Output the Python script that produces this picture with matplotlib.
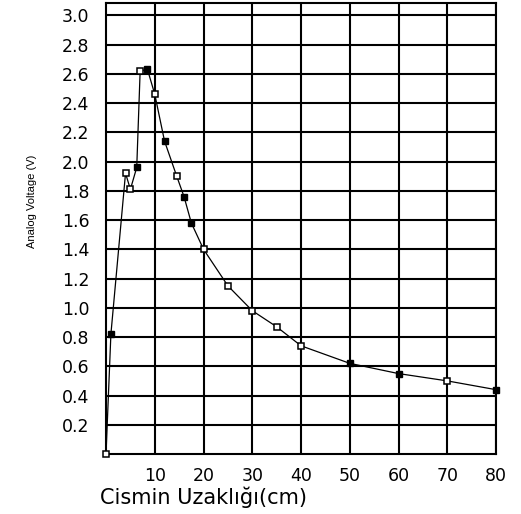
import numpy as np
import matplotlib
matplotlib.use('Agg')
import matplotlib.pyplot as plt

# mesafe (cm) ve analog gerilim (V)
mesafe = [0, 1, 4, 5, 6.3, 7, 8.5, 10, 12, 14.5, 16, 17.5, 20, 25, 30, 35, 40, 50, 60, 70, 80]
gerilim = [0.0, 0.82, 1.92, 1.81, 1.96, 2.62, 2.63, 2.46, 2.14, 1.90, 1.76, 1.58, 1.40,
           1.15, 0.98, 0.87, 0.74, 0.62, 0.55, 0.50, 0.44]
dolu = [0, 1, 0, 0, 1, 0, 1, 0, 1, 0, 1, 1, 0, 0, 0, 0, 0, 1, 1, 0, 1]

xticks = [10, 20, 30, 40, 50, 60, 70, 80]
yticks = [0.2, 0.4, 0.6, 0.8, 1.0, 1.2, 1.4, 1.6, 1.8, 2.0, 2.2, 2.4, 2.6, 2.8, 3.0]

fig = plt.figure(figsize=(5.21, 5.14), dpi=100)
ax = fig.add_axes([0.2035, 0.1167, 0.7486, 0.8774])

ax.plot(mesafe, gerilim, color='black', lw=0.9, zorder=3)
x = np.array(mesafe)
y = np.array(gerilim)
d = np.array(dolu) == 1
ax.plot(x[~d], y[~d], 's', ms=4.5, mfc='white', mec='black', mew=1.1, ls='none', zorder=4,
        clip_on=False)
ax.plot(x[d], y[d], 's', ms=4.5, mfc='black', mec='black', ls='none', zorder=4, clip_on=False)

ax.set_xlim(0, 80)
ax.set_ylim(0, 3.084)
ax.set_xticks(xticks)
ax.set_yticks(yticks)
ax.set_xticklabels([str(t) for t in xticks])
ax.set_yticklabels(['%.1f' % t for t in yticks])
ax.grid(True, color='black', lw=1.5)
ax.set_axisbelow(True)
for s in ax.spines.values():
    s.set_linewidth(1.5)
ax.tick_params(length=0, labelsize=12.5)
ax.tick_params(axis='y', pad=12)
ax.tick_params(axis='x', pad=9)

ax.set_xlabel('Cismin Uzaklığı(cm)', fontsize=15, loc='left', labelpad=2)
ax.xaxis.set_label_coords(-0.015, -0.072)
ax.set_ylabel('Analog Voltage (V)', fontsize=8, family=['Liberation Sans', 'DejaVu Sans'])
ax.yaxis.set_label_coords(-0.177, 0.561)

fig.savefig('out.png', dpi=100)
